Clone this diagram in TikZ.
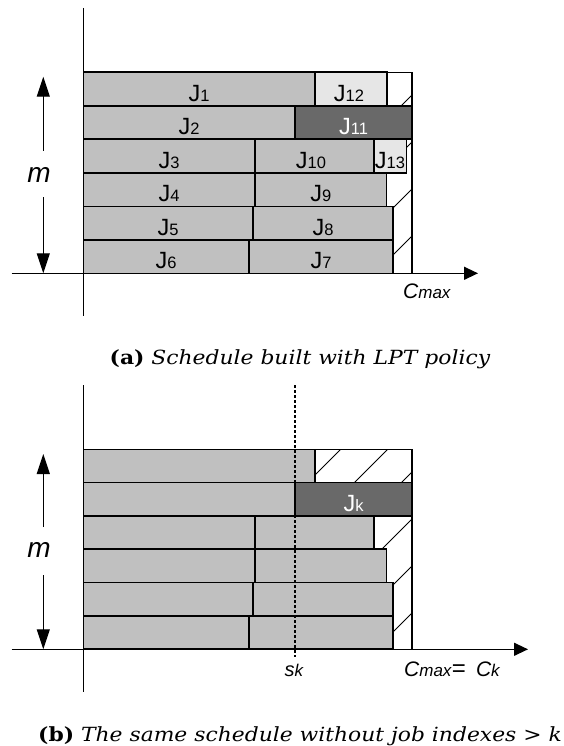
\documentclass[tikz,border=0pt]{standalone}
\usepackage{fontspec}
\setmainfont{DejaVu Serif}
\newfontfamily\arialfont{Liberation Sans}
\usetikzlibrary{arrows.meta}
\definecolor{jobgray}{HTML}{C0C0C0}
\definecolor{jobdark}{HTML}{696969}
\definecolor{joblight}{HTML}{E6E6E6}
\newcommand\jlab[1]{{\arialfont\fontsize{23.5}{23.5}\selectfont J}{\arialfont\fontsize{16.5}{16.5}\selectfont #1}}
\newcommand\mlab{{\arialfont\itshape\fontsize{28}{28}\selectfont m}}
\newcommand\bigC{{\fontsize{21}{21}\selectfont C}}
\newcommand\smalltxt[1]{{\fontsize{17}{17}\selectfont #1}}
\begin{document}
\begin{tikzpicture}[x=1pt,y=-1pt,
  job/.style={draw=black, line width=1.6pt, fill=jobgray},
  jobd/.style={job, fill=jobdark},
  jobl/.style={job, fill=joblight},
  lab/.style={inner sep=0pt, anchor=base},
  axisline/.style={line width=1.3pt},
  bigtip/.style={-{Triangle[length=20pt,width=13pt]}, line width=1.3pt},
  axtip/.style={-{Triangle[length=14pt,width=13pt]}, line width=1.3pt},
  hatchline/.style={line width=0.8pt},
  boxline/.style={line width=1.5pt},
  captext/.style={inner sep=0pt, anchor=base, font=\fontsize{19.5}{19.5}\selectfont}]
\useasboundingbox (0,0) rectangle (563,746);

% ================= (a) =================
\begin{scope}
  \clip (83.3,72.3) rectangle (412,273.3);
  \foreach \c in {131,178,...,700} {
    \draw[hatchline] ({\c-273.3},273.3) -- ({\c-72.3},72.3);
  }
\end{scope}
\draw[boxline] (83.3,72.3) rectangle (412,273.3);
\begin{scope}[y=-33.5pt, shift={(0pt,-72.3pt)}]
  \draw[job]  (83.3,0) rectangle (315,1);
  \draw[jobl] (315,0) rectangle (387,1);
  \draw[job]  (83.3,1) rectangle (295,2);
  \draw[jobd] (295,1) rectangle (412,2);
  \draw[job]  (83.3,2) rectangle (255,3);
  \draw[job]  (255,2) rectangle (374,3);
  \draw[jobl] (374,2) rectangle (406.5,3);
  \draw[job]  (83.3,3) rectangle (255,4);
  \draw[job]  (255,3) rectangle (386.5,4);
  \draw[job]  (83.3,4) rectangle (253,5);
  \draw[job]  (253,4) rectangle (393,5);
  \draw[job]  (83.3,5) rectangle (249,6);
  \draw[job]  (249,5) rectangle (393,6);
  \node[lab] (j1)  at (199,0.86)   {\jlab{1}};
  \node[lab] (j12) at (349,0.86)   {\jlab{12}};
  \node[lab] (j2)  at (189,1.86)   {\jlab{2}};
  \node[lab, text=white] (j11) at (353.5,1.86) {\jlab{11}};
  \node[lab] (j3)  at (169,2.86)   {\jlab{3}};
  \node[lab] (j10) at (311,2.86)   {\jlab{10}};
  \node[lab] (j13) at (390,2.86)   {\jlab{13}};
  \node[lab] (j4)  at (169,3.86)   {\jlab{4}};
  \node[lab] (j9)  at (320.8,3.86) {\jlab{9}};
  \node[lab] (j5)  at (168,4.86)   {\jlab{5}};
  \node[lab] (j8)  at (323,4.86)   {\jlab{8}};
  \node[lab] (j6)  at (166,5.86)   {\jlab{6}};
  \node[lab] (j7)  at (321,5.86)   {\jlab{7}};
\end{scope}
% axes (a)
\coordinate (ayt) at (83.3,8);
\coordinate (ayb) at (83.3,316);
\coordinate (axl) at (11.5,273.3);
\coordinate (axr) at (478,273.3);
\draw[axisline] (ayt) -- (ayb);
\draw[axtip] (axl) -- (axr);
% m arrow (a)
\coordinate (amt) at (43.3,76.7);
\coordinate (amb) at (43.3,273.3);
\coordinate (amg1) at (43.3,151);
\coordinate (amg2) at (43.3,197);
\node (ma) at (39,175) {\mlab};
\draw[bigtip] (amg1) -- (amt);
\draw[bigtip] (amg2) -- (amb);
\node[lab, anchor=base west] (cmaxa) at (403,298.3)
  {\arialfont\itshape\bigC\smalltxt{max}};
\node[captext] (capa) at (300,364) {\scalebox{1.12}[1]{\textbf{(a)} \textit{Schedule built with LPT policy}}};

% ================= (b) =================
\begin{scope}
  \clip (83.3,449.3) rectangle (412,649.3);
  \foreach \c in {508,555,...,1080} {
    \draw[hatchline] ({\c-649.3},649.3) -- ({\c-449.3},449.3);
  }
\end{scope}
\draw[boxline] (83.3,449.3) rectangle (412,649.3);
\begin{scope}[y=-33.33pt, shift={(0pt,-449.3pt)}]
  \draw[job]  (83.3,0) rectangle (315,1);
  \draw[job]  (83.3,1) rectangle (295,2);
  \draw[jobd] (295,1) rectangle (412,2);
  \draw[job]  (83.3,2) rectangle (255,3);
  \draw[job]  (255,2) rectangle (374,3);
  \draw[job]  (83.3,3) rectangle (255,4);
  \draw[job]  (255,3) rectangle (386.5,4);
  \draw[job]  (83.3,4) rectangle (253,5);
  \draw[job]  (253,4) rectangle (393,5);
  \draw[job]  (83.3,5) rectangle (249,6);
  \draw[job]  (249,5) rectangle (393,6);
  \node[lab, text=white] (jk) at (353.5,1.88) {\jlab{k}};
\end{scope}
% dotted s_k line
\coordinate (skt) at (295,385);
\coordinate (skb) at (295,657);
\draw[line width=1.2pt, dash pattern=on 2.5pt off 2.5pt] (skt) -- (skb);
% axes (b)
\coordinate (byt) at (83.3,385);
\coordinate (byb) at (83.3,692);
\coordinate (bxl) at (11.5,649.3);
\coordinate (bxr) at (528,649.3);
\draw[axisline] (byt) -- (byb);
\draw[axtip] (bxl) -- (bxr);
% m arrow (b)
\coordinate (bmt) at (43.3,454);
\coordinate (bmb) at (43.3,649.3);
\coordinate (bmg1) at (43.3,527);
\coordinate (bmg2) at (43.3,575);
\node (mb) at (39,550) {\mlab};
\draw[bigtip] (bmg1) -- (bmt);
\draw[bigtip] (bmg2) -- (bmb);
\node[lab, anchor=base west] (sk) at (284.5,676.7)
  {\arialfont\itshape{\fontsize{20}{20}\selectfont s}\smalltxt{k}};
\node[lab, anchor=base west] (cmaxb) at (404,676.7)
  {\arialfont\itshape\bigC\smalltxt{max}\hspace{0.5pt}{\upshape\fontsize{24}{24}\selectfont=}\hspace{10pt}\bigC\smalltxt{k}};
\node[captext] (capb) at (300,741) {\scalebox{1.12}[1]{\textbf{(b)} \textit{The same schedule without job indexes \textgreater{} k}}};
\end{tikzpicture}
\end{document}
